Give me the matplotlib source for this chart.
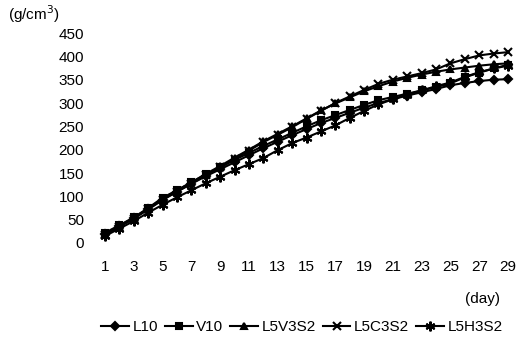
import matplotlib
matplotlib.use("Agg")
import matplotlib.pyplot as plt

plt.rcParams['font.family'] = ['Liberation Sans', 'DejaVu Sans']

days = list(range(1, 30))
xtick_labels = [str(d) for d in range(1, 30, 2)]
yticks = [0, 50, 100, 150, 200, 250, 300, 350, 400, 450]

L10 = [20, 36, 53, 73, 93, 110, 127, 143, 158, 173, 188, 203, 217, 231, 244,
       257, 268, 279, 290, 300, 308, 316, 323, 330, 338, 343, 347, 350, 351]
V10 = [22, 38, 55, 75, 97, 113, 130, 147, 162, 178, 193, 208, 222, 236, 250,
       263, 274, 285, 296, 306, 313, 320, 327, 334, 342, 355, 365, 374, 382]
L5V3S2 = [20, 37, 54, 74, 95, 113, 130, 148, 165, 183, 200, 218, 234, 250, 267,
          284, 299, 312, 325, 336, 346, 354, 361, 367, 372, 376, 380, 383, 385]
L5C3S2 = [18, 35, 52, 72, 92, 110, 127, 145, 162, 180, 198, 216, 232, 248, 266,
          283, 300, 314, 328, 341, 350, 357, 364, 372, 385, 394, 402, 406, 409]
L5H3S2 = [15, 31, 47, 65, 82, 98, 113, 128, 142, 156, 169, 182, 199, 214, 226,
          239, 252, 268, 283, 297, 308, 318, 327, 336, 344, 356, 366, 374, 380]

series = [("L10", L10, "D", 4), ("V10", V10, "s", 5), ("L5V3S2", L5V3S2, "^", 5),
          ("L5C3S2", L5C3S2, "x", 6), ("L5H3S2", L5H3S2, (6, 2, 0), 7)]

fig = plt.figure(figsize=(5.19, 3.41), dpi=100)
ax = fig.add_axes([0.1885, 0.2874, 0.8042, 0.6158])

for name, vals, mk, ms in series:
    ax.plot(days, vals, color='black', lw=1.5, marker=mk, markersize=ms,
            markeredgewidth=1.5, label=name, clip_on=False)

ax.set_xlim(0.5, 29.5)
ax.set_ylim(0, 450)
ax.set_xticks(list(range(1, 30, 2)))
ax.set_xticklabels(xtick_labels)
ax.set_yticks(yticks)
for s in ax.spines.values():
    s.set_visible(False)
ax.tick_params(axis='both', length=0, labelsize=11)
ax.tick_params(axis='y', pad=10)
ax.tick_params(axis='x', pad=12)

fig.text(8 / 519, 1 - 14 / 341, "(g/cm$^3$)", fontsize=11, va='center', ha='left')
fig.text(482 / 519, 1 - 299 / 341, "(day)", fontsize=11, va='center', ha='center')

fig.legend(loc='center', bbox_to_anchor=(302 / 519, 1 - 327 / 341), ncol=5,
           frameon=False, fontsize=11, handlelength=1.8, columnspacing=0.45,
           handletextpad=0.25, borderaxespad=0)

fig.savefig("out.png", dpi=100)
